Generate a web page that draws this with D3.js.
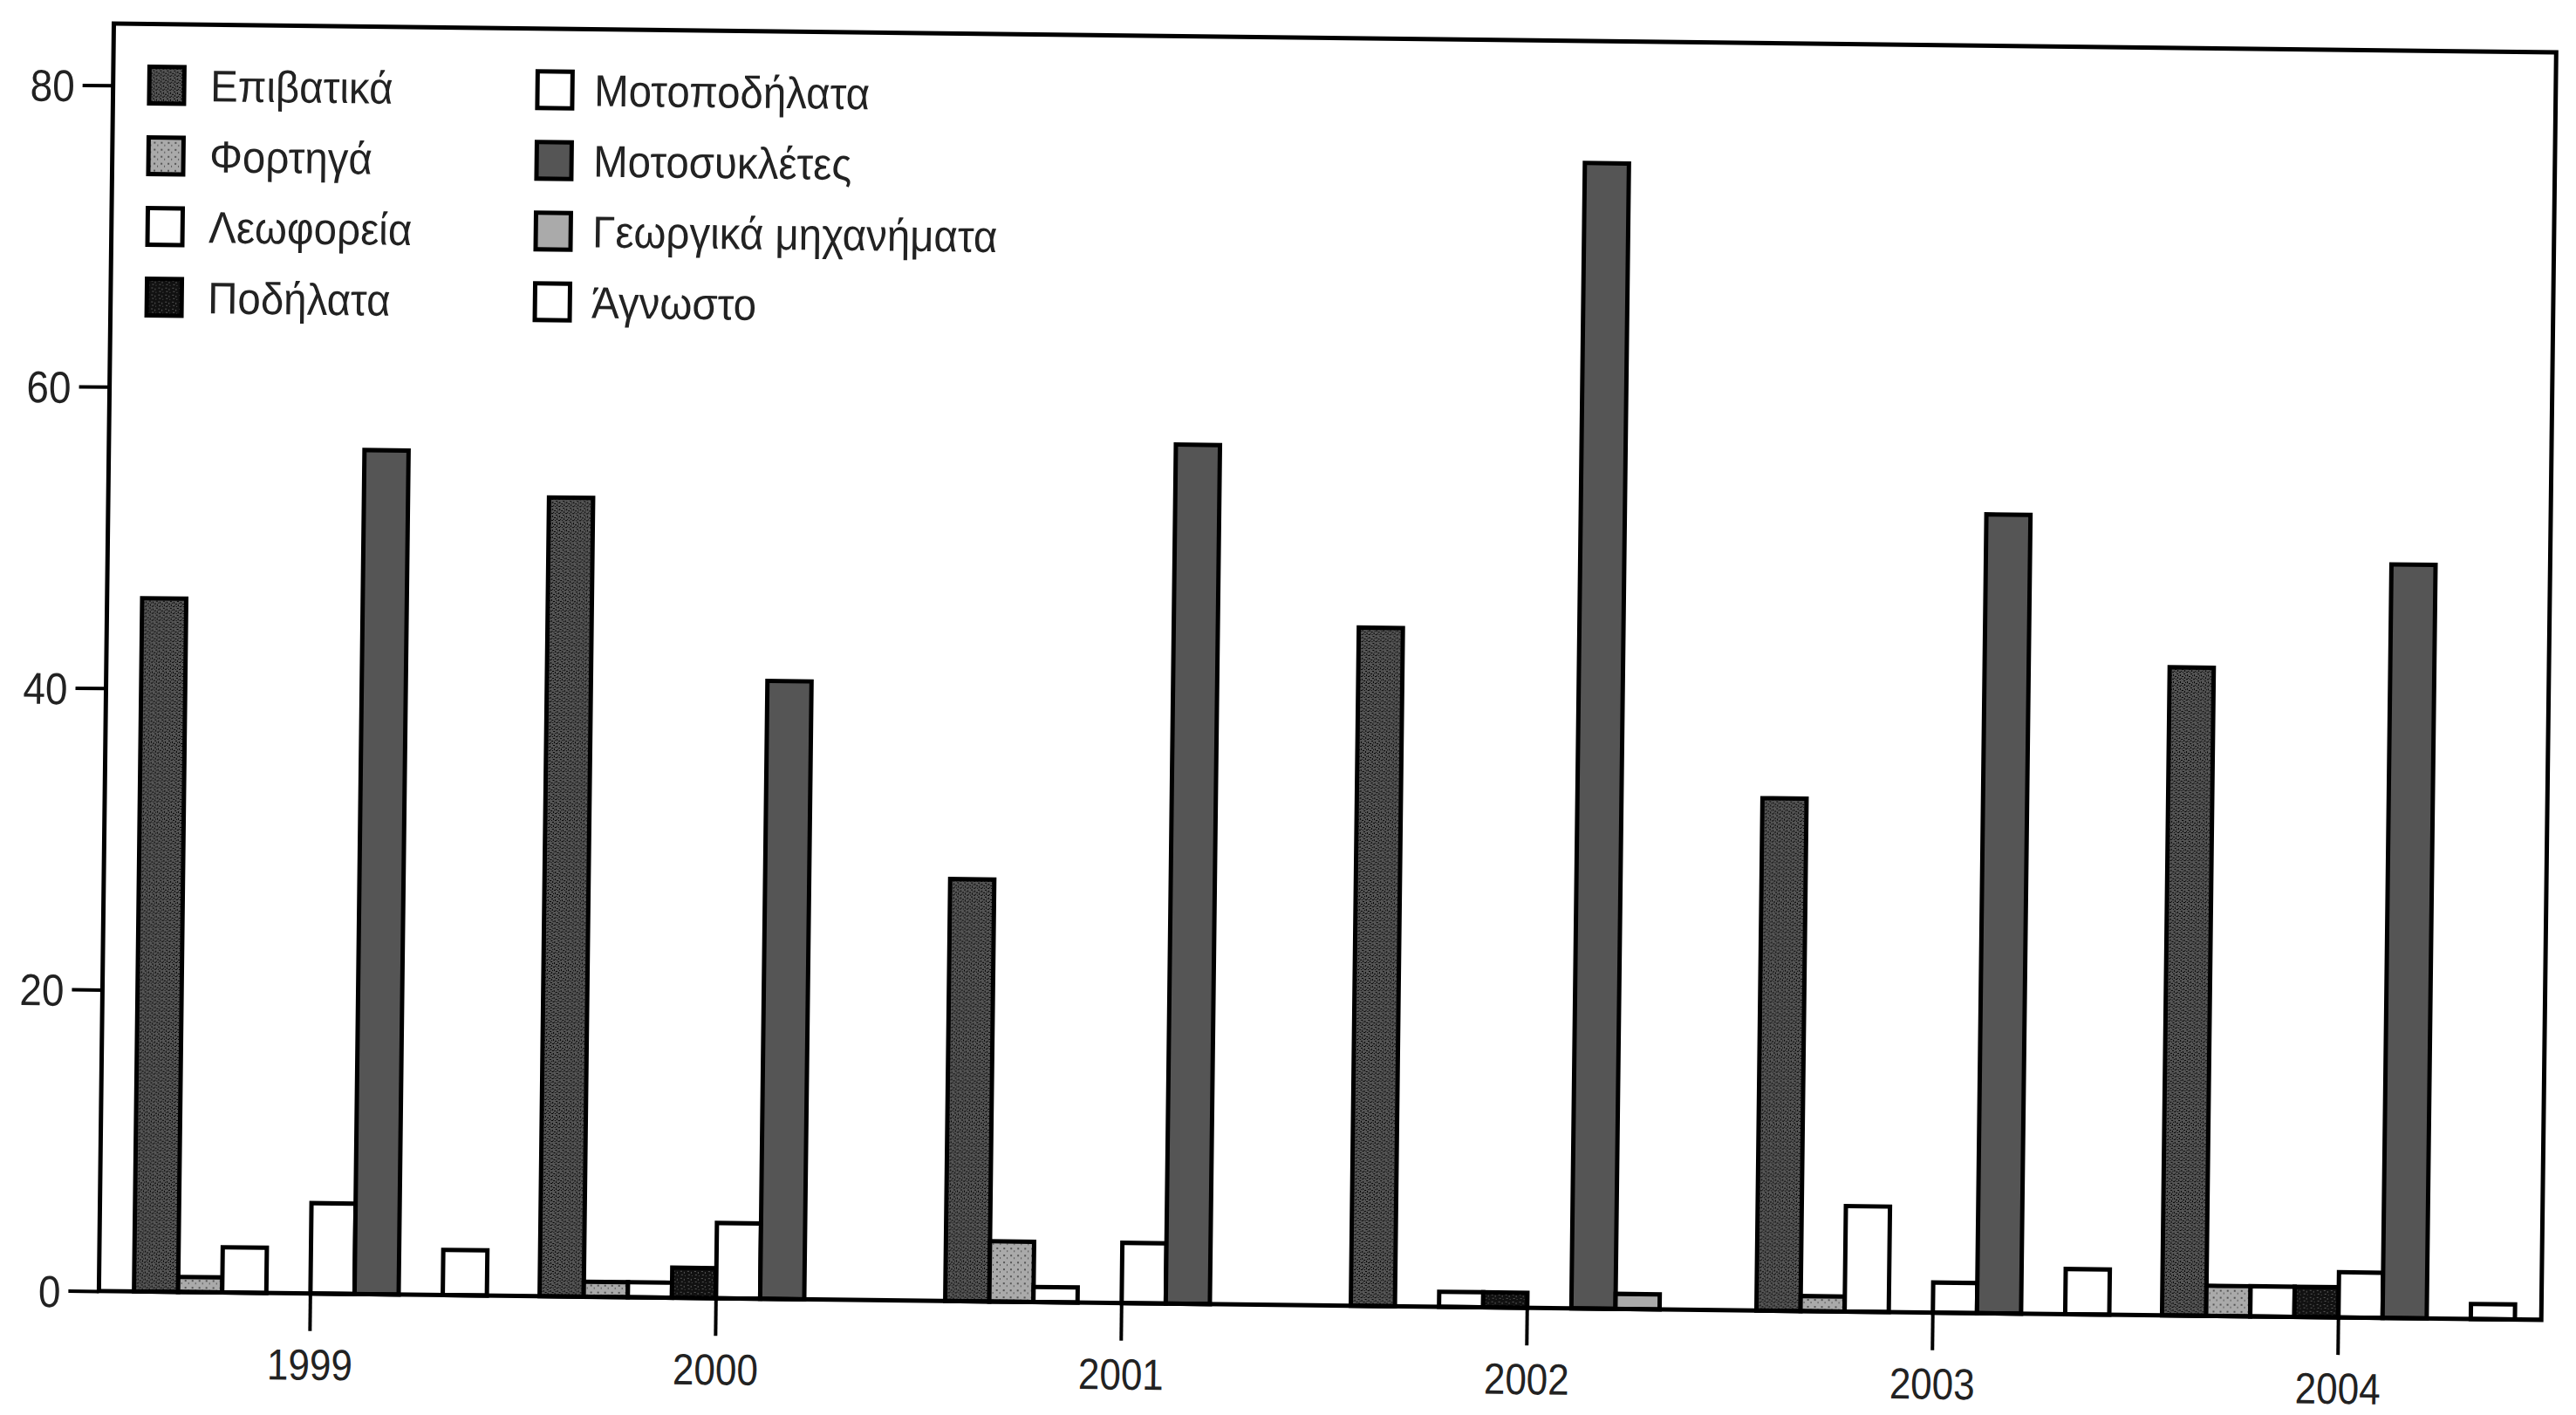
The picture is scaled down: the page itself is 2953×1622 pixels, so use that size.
<!DOCTYPE html>
<html>
<head>
<meta charset="utf-8">
<script src="https://cdn.jsdelivr.net/npm/d3@7"></script>
<style>
  html, body { margin: 0; padding: 0; background: #fff; }
  svg { display: block; }
</style>
</head>
<body>
<svg id="chart" width="2953" height="1622"></svg>
<script>
// ---- data ----
const years = ["1999", "2000", "2001", "2002", "2003", "2004"];
const categories = ["Επιβατικά", "Φορτηγά", "Λεωφορεία", "Ποδήλατα",
                    "Μοτοποδήλατα", "Μοτοσυκλέτες", "Γεωργικά μηχανήματα", "Άγνωστο"];
const epivatika     = [46, 53, 28, 45, 34, 43];
const fortiga       = [1, 1, 4, 0, 1, 2];
const leoforeia     = [3, 1, 1, 1, 7, 2];
const podilata      = [0, 2, 0, 1, 0, 2];
const motopodilata  = [6, 5, 4, 0, 2, 3];
const motosikletes  = [56, 41, 57, 76, 53, 50];
const georgika      = [0, 0, 0, 1, 0, 0];
const agnosto       = [3, 0, 0, 0, 3, 1];
const yTicks = [0, 20, 40, 60, 80];

const seriesValues = [epivatika, fortiga, leoforeia, podilata,
                      motopodilata, motosikletes, georgika, agnosto];
const series = categories.map((name, i) => ({ name, values: seriesValues[i] }));

// ---- layout ----
const L = 130.5, T = 27, R = 2930.5, B = 1480;
const yMax = 84.1;
const fontFamily = "'Liberation Sans', Arial, Helvetica, sans-serif";

const svg = d3.select("#chart");

// fills (scanned-halftone look for the textured series)
const defs = svg.append("defs");
function speckle(id, bg, fg, cells) {
  const p = defs.append("pattern").attr("id", id)
    .attr("patternUnits", "userSpaceOnUse").attr("width", 8).attr("height", 8);
  p.append("rect").attr("width", 8).attr("height", 8).attr("fill", bg);
  cells.forEach(c => p.append("rect").attr("x", c[0]).attr("y", c[1])
    .attr("width", c[2]).attr("height", c[3]).attr("fill", fg));
}
speckle("tex-dark", "#555", "#000",
  [[0,0,2,1],[4,1,1,2],[6,3,2,1],[1,4,1,2],[3,6,2,1],[7,6,1,1],[2,2,1,1],[5,5,1,1]]);
speckle("tex-black", "#111", "#555",
  [[1,1,2,1],[5,2,1,2],[2,5,2,1],[6,6,1,1]]);
speckle("tex-light", "#aaa", "#555",
  [[2,2,2,2],[6,5,1,2]]);

const fills = ["url(#tex-dark)", "url(#tex-light)", "#fff", "url(#tex-black)",
               "#fff", "#555", "#aaa", "#fff"];

// everything sits on a very slightly tilted sheet
const g = svg.append("g").attr("transform", `rotate(0.675, ${L}, ${T})`);

const x0 = d3.scaleBand().domain(years).range([L + 10, R])
  .paddingInner(0.13).paddingOuter(0.065);
const x1 = d3.scaleBand().domain(categories).range([0, x0.bandwidth()]).padding(0);
const y = d3.scaleLinear().domain([0, yMax]).range([B, T]);

// bars
const groups = g.append("g").selectAll("g")
  .data(years)
  .join("g")
  .attr("transform", d => `translate(${x0(d)},0)`);

groups.selectAll("rect")
  .data((yr, i) => series.map((s, k) => ({ name: s.name, k, v: s.values[i] })))
  .join("rect")
  .filter(d => d.v > 0)
  .attr("x", d => x1(d.name))
  .attr("y", d => y(d.v))
  .attr("width", x1.bandwidth())
  .attr("height", d => y(0) - y(d.v))
  .attr("fill", d => fills[d.k])
  .attr("stroke", "#000")
  .attr("stroke-width", 5);

// frame
g.append("rect")
  .attr("x", L).attr("y", T)
  .attr("width", R - L).attr("height", B - T)
  .attr("fill", "none").attr("stroke", "#000").attr("stroke-width", 5);

// y axis
const yAxis = g.append("g").attr("transform", `translate(${L},0)`)
  .call(d3.axisLeft(y).tickValues(yTicks).tickSize(35).tickPadding(9).tickFormat(d3.format("d")));
yAxis.select(".domain").remove();
yAxis.selectAll(".tick line").attr("stroke", "#000").attr("stroke-width", 4);
yAxis.selectAll(".tick text")
  .attr("font-family", fontFamily).attr("font-size", 51).attr("fill", "#222")
  .attr("x", -44 / 0.9).attr("dy", "0.36em")
  .attr("transform", "scale(0.9,1)");

// x axis
const xAxis = g.append("g").attr("transform", `translate(0,${B})`)
  .call(d3.axisBottom(x0).tickSize(43).tickPadding(0));
xAxis.select(".domain").remove();
xAxis.selectAll(".tick line").attr("stroke", "#000").attr("stroke-width", 4);
xAxis.selectAll(".tick text")
  .attr("font-family", fontFamily).attr("font-size", 50).attr("fill", "#222")
  .attr("y", 99).attr("dy", 0)
  .attr("transform", "scale(0.88,1)");

// legend: two columns of four
const legendCols = [{ sx: 172, tx: 242 }, { sx: 617, tx: 682 }];
const rowY = [97, 178, 259, 340];
const legend = g.append("g");
series.forEach((s, k) => {
  const col = legendCols[Math.floor(k / 4)];
  const cy = rowY[k % 4];
  legend.append("rect")
    .attr("x", col.sx).attr("y", cy - 21)
    .attr("width", 40).attr("height", 42)
    .attr("fill", fills[k]).attr("stroke", "#000").attr("stroke-width", 5);
  legend.append("text")
    .attr("transform", `translate(${col.tx},${cy + 18}) scale(0.93,1)`)
    .attr("font-family", fontFamily).attr("font-size", 51).attr("fill", "#222")
    .text(s.name);
});
</script>
</body>
</html>
